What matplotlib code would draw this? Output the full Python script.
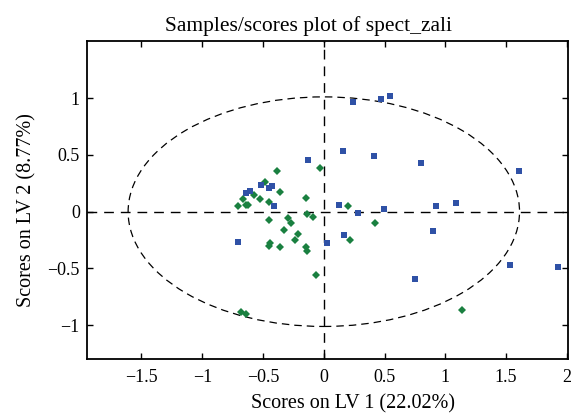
import numpy as np
import matplotlib.pyplot as plt
from matplotlib.patches import Ellipse

plt.rcParams['font.family'] = ['Liberation Serif', 'DejaVu Serif']

# class 1 (blue squares) scores on LV1 / LV2
blue_lv1 = [-0.132, -0.637, -0.610, -0.519, -0.453, -0.429, -0.412, 0.242, 0.467, 0.547,
            0.157, 0.410, 0.802, 1.608, 0.124, 0.283, 0.497, 0.921, 1.088, 0.029,
            0.162, 0.899, 1.533, 1.929, 0.750, -0.707]
blue_lv2 = [0.454, 0.168, 0.180, 0.233, 0.210, 0.227, 0.054, 0.967, 0.990, 1.017,
            0.535, 0.486, 0.430, 0.359, 0.063, -0.014, 0.021, 0.054, 0.077, -0.276,
            -0.202, -0.167, -0.466, -0.487, -0.590, -0.266]

# class 2 (green diamonds)
green_lv1 = [-0.031, -0.385, -0.488, -0.363, -0.577, -0.665, -0.528, -0.453, -0.709, -0.643,
             -0.622, -0.148, 0.195, 0.423, -0.449, -0.291, -0.274, -0.142, -0.089, -0.324,
             -0.210, -0.241, 0.212, -0.439, -0.451, -0.364, -0.143, -0.136, -0.062, -0.678,
             -0.637, 1.138]
green_lv2 = [0.381, 0.358, 0.265, 0.174, 0.143, 0.115, 0.111, 0.085, 0.049, 0.063,
             0.056, 0.122, 0.050, -0.102, -0.070, -0.054, -0.102, -0.021, -0.047, -0.159,
             -0.196, -0.250, -0.248, -0.278, -0.299, -0.312, -0.307, -0.350, -0.561, -0.880,
             -0.901, -0.865]

# 95% confidence ellipse semi-axes
ell_a = 1.61
ell_b = 1.01

xticks = [-1.5, -1, -0.5, 0, 0.5, 1, 1.5, 2]
yticks = [-1, -0.5, 0, 0.5, 1]


def fmt(v):
    s = ('%g' % v)
    return s.replace('-', '\u2212')


fig = plt.figure(figsize=(5.71, 4.16), dpi=100)
ax = fig.add_axes([0.152, 0.136, 0.843, 0.765])

ax.axhline(0, color='k', lw=1.0, ls=(0, (7, 5)), zorder=1)
ax.axvline(0, color='k', lw=1.0, ls=(0, (7, 5)), zorder=1)
ax.add_patch(Ellipse((0, 0), 2 * ell_a, 2 * ell_b, fill=False, ec='k',
                     lw=0.9, ls=(0, (6, 4)), zorder=1))

ax.plot(green_lv1, green_lv2, 'D', color='#1a8040', ms=3.8, mew=0, zorder=3)
ax.plot(blue_lv1, blue_lv2, 's', color='#2f51a6', ms=5.0, mew=0, zorder=3)

ax.set_xlim(-1.95, 2.01)
ax.set_ylim(-1.3, 1.5)
ax.set_xticks(xticks)
ax.set_xticklabels([fmt(v) for v in xticks])
ax.set_yticks(yticks)
ax.set_yticklabels([fmt(v) for v in yticks])
ax.tick_params(direction='in', top=True, right=True, length=4, width=1,
               labelsize=13, pad=5)
ax.tick_params(axis='x', pad=7)
for sp in ax.spines.values():
    sp.set_linewidth(1.3)

ax.set_title('Samples/scores plot of spect_zali', fontsize=15.5, pad=7, x=0.46)
ax.set_xlabel('Scores on LV 1 (22.02%)', fontsize=14.5, labelpad=6, x=0.553)
ax.set_ylabel('Scores on LV 2 (8.77%)', fontsize=14.5, labelpad=8, y=0.47)

fig.savefig('out.png', dpi=100)
